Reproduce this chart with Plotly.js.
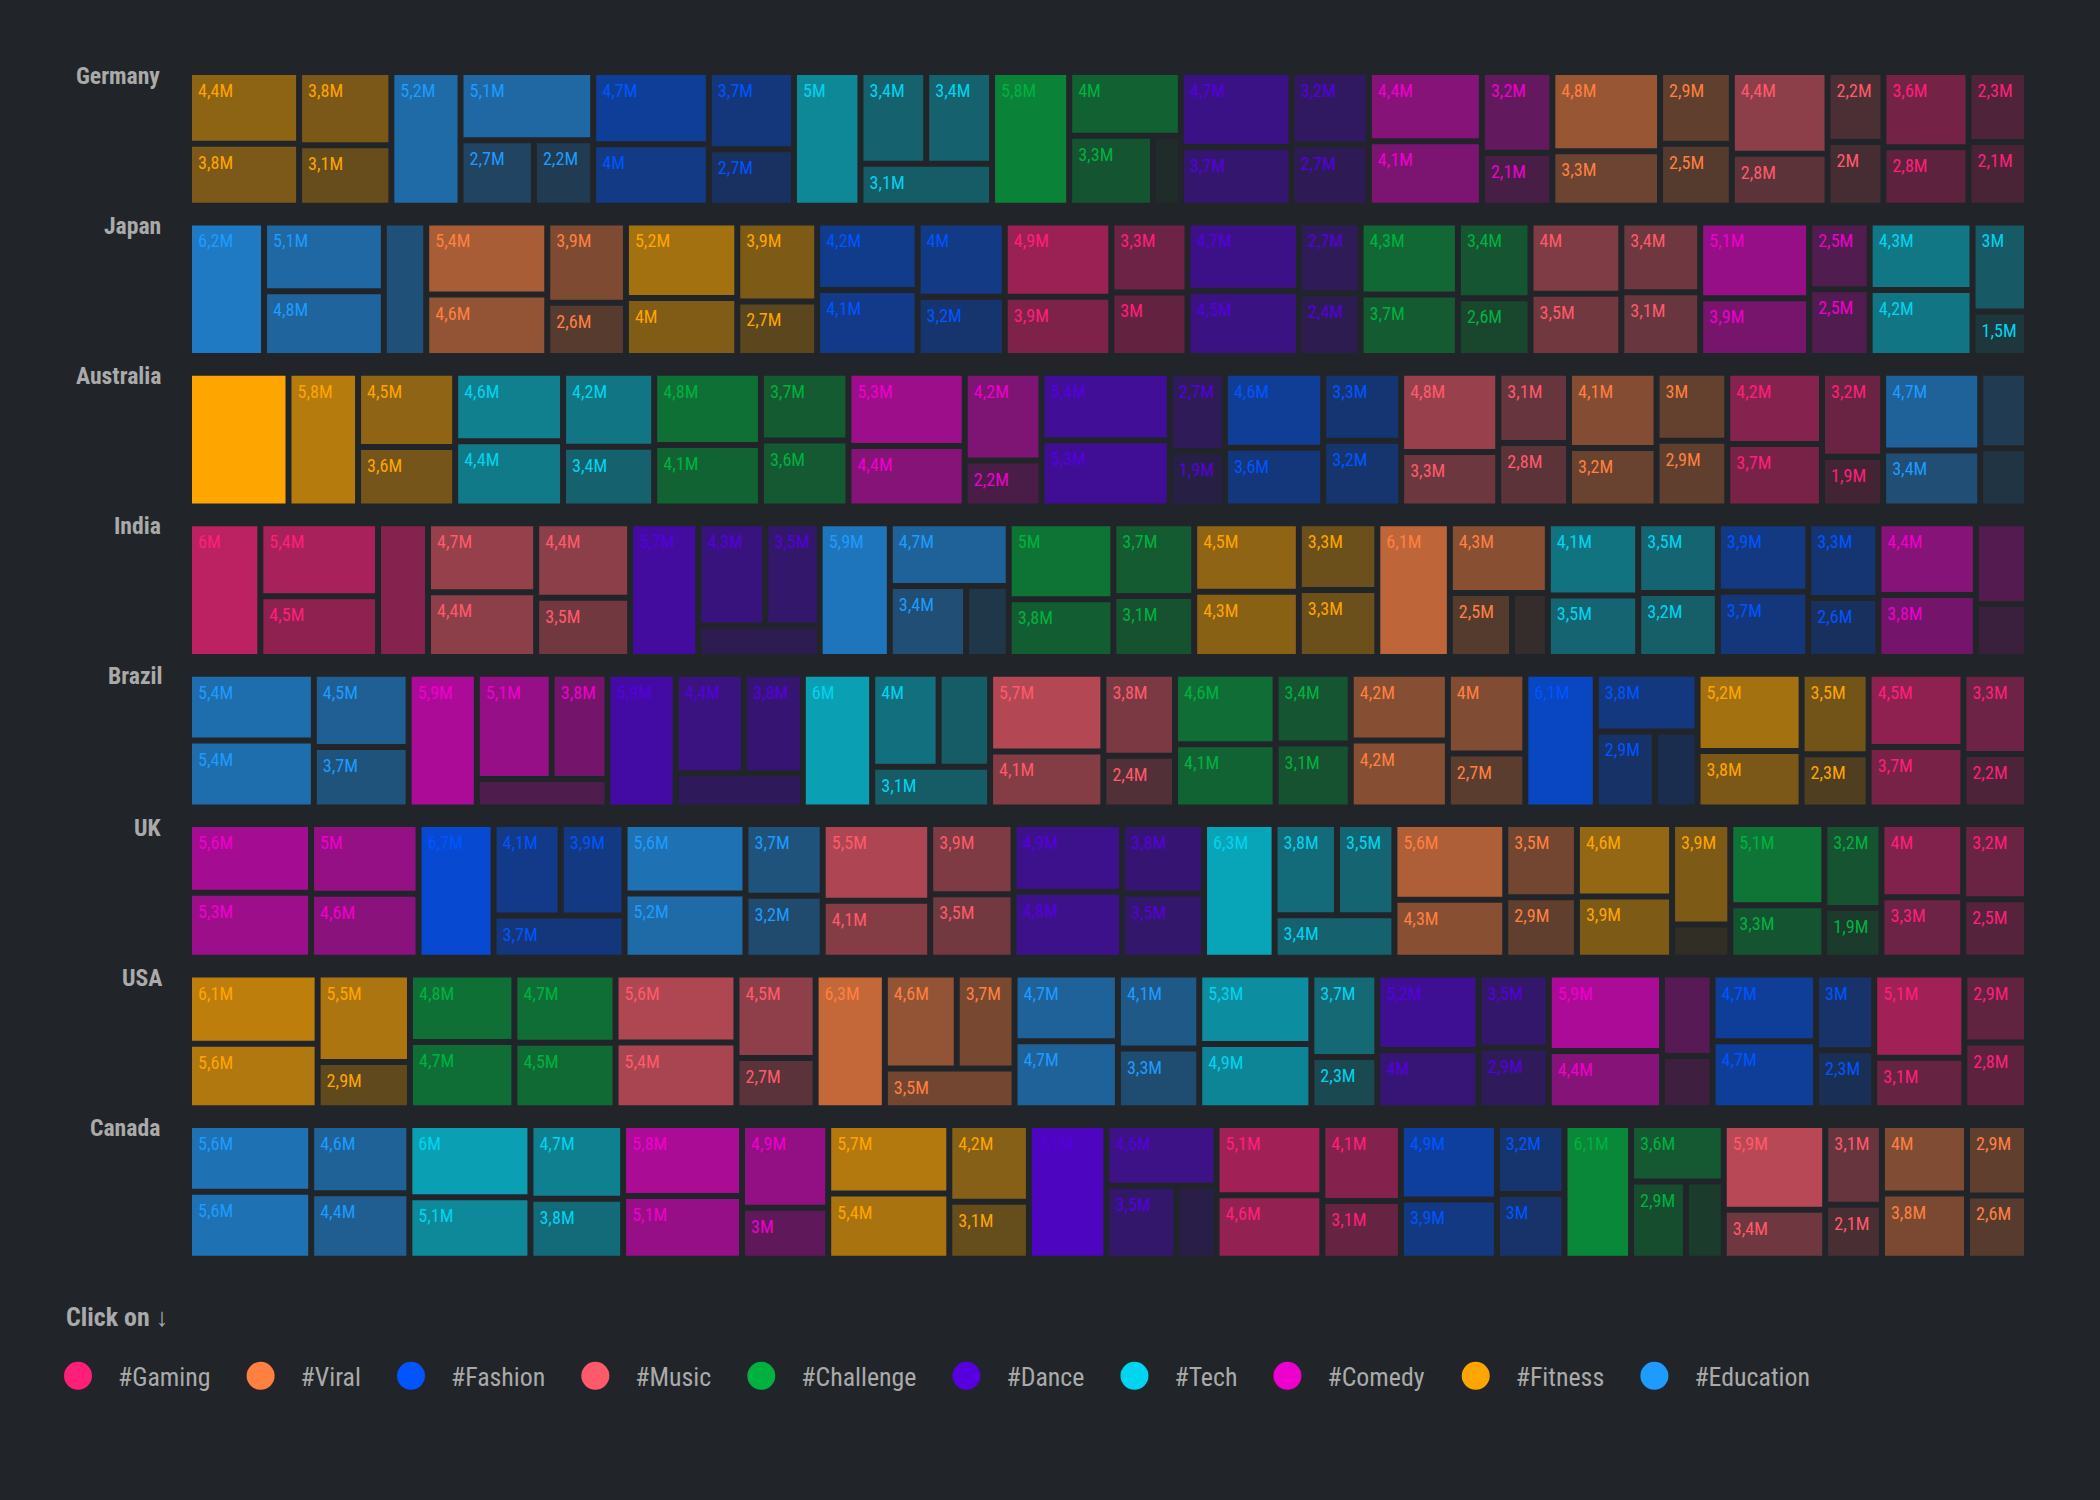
<!DOCTYPE html>
<html><head><meta charset="utf-8">
<script src="https://cdn.plot.ly/plotly-3.0.1.min.js"></script>
<style>
html,body{margin:0;padding:0;background:#212529;}
#wrap{width:2100px;height:1500px;overflow:hidden;}
#chart{width:1050px;height:750px;transform:scale(2);transform-origin:0 0;}
</style></head><body><div id="wrap"><div id="chart"></div></div>
<script>
// ---------- data ----------
const countries = ['Germany', 'Japan', 'Australia', 'India', 'Brazil', 'UK', 'USA', 'Canada'];
const hashtags = ['#Gaming', '#Viral', '#Fashion', '#Music', '#Challenge', '#Dance', '#Tech', '#Comedy', '#Fitness', '#Education'];
const hashtagColors = ['#FF1F7A', '#FF8040', '#0055FF', '#FF5A6A', '#00B140', '#5500DD', '#00D4EE', '#EE00CC', '#FFA500', '#1E9BFF'];

// values in millions, 4 per hashtag, hashtag order as above
const germany = [[3.6, 2.8, 2.3, 2.1], [4.8, 3.3, 2.9, 2.5], [4.7, 4.0, 3.7, 2.7], [4.4, 2.8, 2.2, 2.0], [5.8, 4.0, 3.3, 1.1],
  [4.66, 3.66, 3.16, 2.66], [5.0, 3.4, 3.4, 3.1], [4.4, 4.1, 3.2, 2.1], [4.44, 3.84, 3.8, 3.14], [5.2, 5.1, 2.7, 2.18]];
const japan = [[4.9, 3.9, 3.3, 3.0], [5.4, 4.6, 3.9, 2.6], [4.2, 4.1, 4.0, 3.2], [4.0, 3.5, 3.4, 3.12], [4.34, 3.7, 3.4, 2.6],
  [4.7, 4.5, 2.7, 2.4], [4.3, 4.2, 3.0, 1.5], [5.1, 3.9, 2.5, 2.5], [5.2, 4.0, 3.9, 2.7], [6.2, 5.1, 4.8, 3.5]];
const australia = [[4.2, 3.7, 3.2, 1.9], [4.1, 3.2, 3.0, 2.9], [4.6, 3.6, 3.3, 3.2], [4.8, 3.3, 3.1, 2.8], [4.8, 4.1, 3.7, 3.6],
  [5.4, 5.3, 2.7, 1.9], [4.6, 4.4, 4.2, 3.4], [5.3, 4.4, 4.2, 2.2], [8.3, 5.8, 4.5, 3.6], [4.7, 3.4, 2.2, 1.7]];
const india = [[6.0, 5.4, 4.5, 4.2], [6.1, 4.3, 2.5, 1.44], [3.9, 3.7, 3.3, 2.6], [4.7, 4.4, 4.4, 3.5], [5.0, 3.8, 3.7, 3.1],
  [5.74, 4.3, 3.5, 2.4], [4.1, 3.5, 3.5, 3.2], [4.4, 3.8, 2.6, 1.7], [4.5, 4.3, 3.3, 3.3], [5.9, 4.7, 3.4, 1.9]];
const brazil = [[4.5, 3.7, 3.3, 2.2], [4.2, 4.2, 4.0, 2.7], [6.1, 3.8, 2.9, 2.1], [5.7, 4.1, 3.8, 2.4], [4.6, 4.1, 3.4, 3.1],
  [5.9, 4.4, 3.8, 2.8], [6.0, 4.0, 3.1, 3.1], [5.9, 5.1, 3.8, 2.4], [5.2, 3.8, 3.5, 2.3], [5.4, 5.4, 4.5, 3.7]];
const uk = [[4.0, 3.3, 3.2, 2.5], [5.6, 4.3, 3.5, 2.9], [6.7, 4.1, 3.9, 3.7], [5.5, 4.1, 3.9, 3.54], [5.1, 3.3, 3.2, 1.9],
  [4.9, 4.8, 3.8, 3.52], [6.3, 3.8, 3.5, 3.4], [5.6, 5.3, 5.0, 4.6], [4.6, 3.9, 3.9, 1.3], [5.6, 5.2, 3.7, 3.2]];
const usa = [[5.1, 3.1, 2.9, 2.8], [6.3, 4.6, 3.7, 3.5], [4.7, 4.7, 3.0, 2.3], [5.6, 5.4, 4.5, 2.7], [4.8, 4.7, 4.7, 4.5],
  [5.2, 4.0, 3.5, 2.9], [5.3, 4.9, 3.7, 2.3], [5.9, 4.4, 2.8, 1.8], [6.06, 5.64, 5.5, 2.9], [4.7, 4.7, 4.1, 3.3]];
const canada = [[5.1, 4.6, 4.1, 3.1], [4.0, 3.8, 2.9, 2.6], [4.9, 3.9, 3.2, 3.0], [5.9, 3.4, 3.1, 2.1], [6.1, 3.6, 2.9, 2.0],
  [7.1, 4.6, 3.5, 2.0], [6.0, 5.1, 4.7, 3.8], [5.8, 5.1, 4.9, 3.0], [5.7, 5.4, 4.2, 3.1], [5.6, 5.6, 4.6, 4.4]];
const countryValues = [germany, japan, australia, india, brazil, uk, usa, canada];

// ---------- font selection (narrow sans, like Arial Narrow) ----------
function measure(family, stretch, txt, weight) {
  const s = document.createElement('span');
  s.style.cssText = 'position:absolute;left:-9999px;top:0;visibility:hidden;white-space:nowrap;font-size:100px;' +
    'font-family:' + family + ';font-stretch:' + stretch + ';font-weight:' + (weight || 'normal') + ';';
  s.textContent = txt;
  document.body.appendChild(s);
  const w = s.getBoundingClientRect().width;
  document.body.removeChild(s);
  return w;
}
const PROBE = '#Gaming 4,4M Germany 3,8M';
const monoW = measure('monospace', 'normal', PROBE);
const baseW = measure('"Liberation Sans", monospace', 'normal', PROBE);
const candidates = [
  ['Liberation Sans Narrow', 'normal'], ['Arial Narrow', 'normal'], ['Roboto Condensed', 'normal'],
  ['Roboto', 'condensed'], ['Open Sans Condensed', 'normal'], ['Open Sans', 'condensed'],
  ['Noto Sans Condensed', 'normal'], ['Noto Sans', 'condensed']
];
let FAMILY = 'Liberation Sans', STRETCH = 'normal';
for (const [fam, st] of candidates) {
  const w = measure('"' + fam + '", monospace', st, PROBE);
  if (Math.abs(w - monoW) < 0.5) continue;
  const r = w / baseW;
  if (r > 0.68 && r < 0.93) { FAMILY = fam; STRETCH = st; break; }
}
const FONT = '"' + FAMILY + '", "Liberation Sans", Arial, sans-serif';
const fq = '"' + FAMILY + '", "Liberation Sans", monospace';
const styleEl = document.createElement('style');
styleEl.textContent = 'svg text{font-stretch:' + STRETCH + ';}';
document.head.appendChild(styleEl);

// sizes chosen so that text widths match the reference
const emLabel = measure(fq, STRETCH, '2,2M') / 100;
const LABEL_SIZE = Math.max(8.6, Math.min(10, 17.6 / emLabel));
const emLegend = measure(fq, STRETCH, '#Gaming') / 100;
const LEGEND_SIZE = Math.max(12, Math.min(14.5, 46.3 / emLegend));
const emCountry = measure(fq, STRETCH, 'Germany', 'bold') / 100;
const COUNTRY_SIZE = Math.max(11, Math.min(14, 42 / emCountry));

// ---------- styling ----------
const BG = '#212529';
const GREY = '#aaaaaa';
const W = 1050, H = 750;
const plotL = 96, plotR = 1012, rowTop0 = 37.5, rowStep = 75.21, rowH = 63.85;

const allVals = countryValues.flat(2);
const vMin = Math.min(...allVals), vMax = Math.max(...allVals);
function rgba(hex, a) {
  const n = parseInt(hex.slice(1), 16);
  return 'rgba(' + ((n >> 16) & 255) + ',' + ((n >> 8) & 255) + ',' + (n & 255) + ',' + a.toFixed(3) + ')';
}

const traces = [];
const annotations = [];
countries.forEach(function (c, ci) {
  const ids = [], labels = [], parents = [], values = [], colors = [], tcolors = [], templates = [];
  hashtags.forEach(function (h, hi) {
    const pid = c + '/' + h;
    ids.push(pid); labels.push(h); parents.push(''); values.push(0);
    colors.push('rgba(0,0,0,0)'); tcolors.push(BG); templates.push(' ');
    countryValues[ci][hi].forEach(function (v, k) {
      ids.push(pid + '/' + (k + 1)); labels.push(h + ' ' + (k + 1)); parents.push(pid); values.push(v);
      const a = 0.05 + 0.95 * (v - vMin) / (vMax - vMin);
      colors.push(rgba(hashtagColors[hi], a)); tcolors.push(hashtagColors[hi]); templates.push('%{value:.2~r}M');
    });
  });
  const top = rowTop0 + rowStep * ci, bottom = top + rowH;
  traces.push({
    type: 'treemap', name: c, ids: ids, labels: labels, parents: parents, values: values,
    branchvalues: 'remainder', sort: true,
    domain: { x: [plotL / W, plotR / W], y: [1 - bottom / H, 1 - top / H] },
    tiling: { packing: 'squarify', squarifyratio: 1, pad: 3 },
    marker: { colors: colors, line: { width: 0 }, pad: { t: 0, l: 0, r: 0, b: 0 }, depthfade: false },
    root: { color: 'rgba(0,0,0,0)' },
    pathbar: { visible: false },
    texttemplate: templates, textposition: 'top left',
    textfont: { family: FONT, size: LABEL_SIZE, color: tcolors },
    hoverinfo: 'skip'
  });
  annotations.push({
    text: c, x: 82.5 / W, y: 1 - top / H, xref: 'paper', yref: 'paper',
    xanchor: 'right', yanchor: 'middle', showarrow: false,
    font: { family: FONT, size: COUNTRY_SIZE, color: GREY, weight: 'bold' }
  });
});
annotations.push({
  text: 'Click on ↓', x: 31 / W, y: 1 - 658 / H, xref: 'paper', yref: 'paper',
  xanchor: 'left', yanchor: 'middle', showarrow: false,
  font: { family: FONT, size: LEGEND_SIZE, color: GREY, weight: 'bold' }
});

hashtags.forEach(function (h, hi) {
  traces.push({
    type: 'scatter', x: [null], y: [null], mode: 'markers', name: h,
    marker: { size: 14, color: hashtagColors[hi] }, hoverinfo: 'skip', showlegend: true
  });
});

const layout = {
  width: W, height: H,
  paper_bgcolor: BG, plot_bgcolor: BG,
  margin: { l: 0, r: 0, t: 0, b: 0 },
  separators: ', ',
  font: { family: FONT, color: GREY, size: 14 },
  xaxis: { visible: false }, yaxis: { visible: false },
  showlegend: true,
  legend: {
    orientation: 'h', x: 19 / W, y: 1 - 688 / H, xanchor: 'left', yanchor: 'middle',
    bgcolor: 'rgba(0,0,0,0)',
    font: { family: FONT, size: LEGEND_SIZE, color: GREY }
  },
  uniformtext: { mode: 'hide', minsize: LABEL_SIZE - 0.01 },
  annotations: annotations
};

Plotly.newPlot('chart', traces, layout, { displayModeBar: false, staticPlot: true });
</script></body></html>
